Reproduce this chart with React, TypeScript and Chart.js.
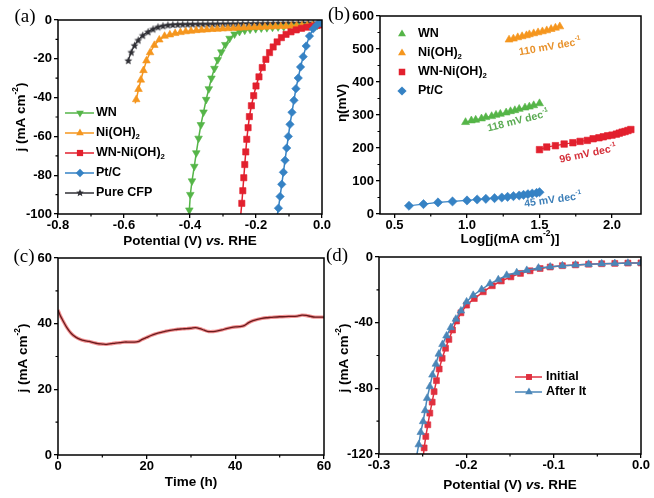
import React, { useEffect, useRef } from 'react';
import { Chart, registerables } from 'chart.js';

Chart.register(...registerables);

const W = 654;
const H = 498;
const SANS = '"Liberation Sans", Arial, Helvetica, sans-serif';
const SERIF = '"Liberation Serif", "Times New Roman", serif';

const GREEN = '#55b548';
const ORANGE = '#f5961e';
const RED = '#e2202e';
const BLUE = '#3582c4';
const DARK = '#303036';

// ---------------- (a) polarization curves ----------------
const aXTicks = [-0.8, -0.6, -0.4, -0.2, 0.0];
const aXLabels = ['-0.8', '-0.6', '-0.4', '-0.2', '0.0'];
const aXMinor = [-0.7, -0.5, -0.3, -0.1];
const aYTicks = [-100, -80, -60, -40, -20, 0];
const aYLabels = ['-100', '-80', '-60', '-40', '-20', '0'];
const aYMinor = [-90, -70, -50, -30, -10];

const aWN_V = [-0.404, -0.402, -0.399, -0.394, -0.387, -0.381, -0.374, -0.367, -0.359, -0.351, -0.343, -0.335, -0.326, -0.316, -0.305, -0.293, -0.280, -0.265, -0.250, -0.234, -0.218, -0.201, -0.184, -0.167, -0.150, -0.133, -0.116, -0.099, -0.082, -0.065, -0.048, -0.031, -0.014];
const aWN_J = [-100, -98, -90, -83, -75.5, -68.5, -61, -54, -47.5, -41, -35.5, -30, -25, -20.5, -16.5, -12.7, -9.5, -7.3, -6.0, -5.3, -4.8, -4.5, -4.2, -4.0, -3.8, -3.6, -3.5, -3.3, -3.2, -3.0, -2.9, -2.8, -2.7];

const aNi_V = [-0.566, -0.563, -0.556, -0.549, -0.541, -0.532, -0.521, -0.508, -0.493, -0.477, -0.461, -0.445, -0.429, -0.413, -0.397, -0.381, -0.365, -0.349, -0.333, -0.317, -0.301, -0.285, -0.269, -0.253, -0.237, -0.221, -0.205, -0.189, -0.173, -0.157, -0.141, -0.125, -0.109, -0.093, -0.077, -0.061, -0.045, -0.029, -0.013];
const aNi_J = [-43, -41, -35.7, -30.9, -26, -21, -16.8, -13, -10.2, -8.3, -7.6, -6.9, -6.4, -6.0, -5.7, -5.4, -5.2, -5.0, -4.8, -4.7, -4.5, -4.4, -4.3, -4.1, -4.0, -3.9, -3.8, -3.7, -3.6, -3.5, -3.4, -3.3, -3.2, -3.1, -3.0, -2.95, -2.9, -2.85, -2.8];

const aWNNi_V = [-0.246, -0.243, -0.240, -0.237, -0.234, -0.231, -0.228, -0.224, -0.220, -0.214, -0.207, -0.200, -0.191, -0.181, -0.170, -0.159, -0.148, -0.136, -0.123, -0.109, -0.094, -0.078, -0.062, -0.046, -0.030, -0.015, 0.0];
const aWNNi_J = [-100, -94.5, -88, -81.3, -74.5, -68, -61.5, -55.5, -49.8, -44.2, -39, -34, -29.3, -24.5, -20.3, -16.8, -13.9, -11.3, -9.1, -7.4, -6.1, -5.1, -4.3, -3.7, -3.2, -2.8, -2.5];

const aPt_V = [-0.135, -0.132, -0.127, -0.122, -0.117, -0.112, -0.107, -0.102, -0.097, -0.091, -0.085, -0.079, -0.072, -0.065, -0.057, -0.048, -0.038, -0.027, -0.015, -0.003];
const aPt_J = [-100, -97, -91, -84.7, -78.5, -72.3, -66, -60, -53.8, -47.6, -41.4, -35.4, -29.9, -24.2, -18.9, -13.4, -8.3, -4.6, -2.4, -1.5];

const aCFP_V = [-0.587, -0.578, -0.568, -0.557, -0.543, -0.527, -0.512, -0.497, -0.482, -0.467, -0.452, -0.437, -0.422, -0.407, -0.392, -0.376, -0.361, -0.346, -0.331, -0.316, -0.300, -0.285, -0.270, -0.255, -0.240, -0.224, -0.209, -0.194, -0.179, -0.164, -0.148, -0.133, -0.118, -0.103, -0.088, -0.072, -0.057, -0.042, -0.027, -0.012];
const aCFP_J = [-20.8, -16.5, -13, -10.3, -7.8, -6, -4.6, -3.5, -2.9, -2.5, -2.3, -2.2, -2.1, -2.08, -2.05, -2.02, -2.0, -1.97, -1.95, -1.92, -1.9, -1.88, -1.85, -1.83, -1.8, -1.78, -1.75, -1.72, -1.7, -1.68, -1.65, -1.62, -1.6, -1.57, -1.55, -1.52, -1.5, -1.47, -1.45, -1.42];

// ---------------- (b) Tafel plots ----------------
const bXTicks = [0.5, 1.0, 1.5, 2.0];
const bXLabels = ['0.5', '1.0', '1.5', '2.0'];
const bXMinor = [0.75, 1.25, 1.75];
const bYTicks = [0, 100, 200, 300, 400, 500, 600];
const bYLabels = ['0', '100', '200', '300', '400', '500', '600'];
const bYMinor = [50, 150, 250, 350, 450, 550];

const bWN_x = [0.99, 1.03, 1.06, 1.10, 1.13, 1.17, 1.20, 1.23, 1.27, 1.30, 1.33, 1.36, 1.40, 1.43, 1.46, 1.50];
const bWN_y = [278, 283, 285, 289, 293, 296, 300, 303, 307, 311, 314, 318, 322, 325, 329, 335];
const bNi_x = [1.29, 1.32, 1.35, 1.38, 1.41, 1.43, 1.46, 1.49, 1.52, 1.55, 1.58, 1.61, 1.64];
const bNi_y = [528, 531, 535, 538, 541, 544, 547, 550, 553, 556, 560, 564, 568];
const bWNNi_x = [1.50, 1.55, 1.61, 1.67, 1.73, 1.78, 1.83, 1.87, 1.91, 1.94, 1.97, 2.00, 2.03, 2.05, 2.07, 2.09, 2.11, 2.13];
const bWNNi_y = [195, 203, 207, 212, 216, 220, 223, 228, 231, 234, 237, 239, 242, 245, 248, 250, 253, 256];
const bPt_x = [0.60, 0.70, 0.80, 0.90, 1.00, 1.07, 1.13, 1.19, 1.24, 1.28, 1.32, 1.36, 1.39, 1.42, 1.45, 1.48, 1.50];
const bPt_y = [25, 30, 35, 38, 41, 44, 46, 48, 50, 52, 54, 56, 58, 60, 62, 64, 66];
const bSlopes = ['110', '118', '96', '45'];

// ---------------- (c) stability ----------------
const cXTicks = [0, 20, 40, 60];
const cXLabels = ['0', '20', '40', '60'];
const cXMinor = [10, 30, 50];
const cYTicks = [0, 20, 40, 60];
const cYLabels = ['0', '20', '40', '60'];
const cYMinor = [10, 30, 50];

const cTime = [0, 0.5, 1, 2, 3, 4, 5, 6, 7, 8, 9, 10, 11, 12, 13, 14, 15, 16, 17, 18, 19, 20, 21, 22, 23, 24, 25, 26, 27, 28, 29, 30, 31, 32, 33, 34, 35, 36, 37, 38, 39, 40, 41, 42, 43, 44, 45, 46, 47, 48, 50, 52, 54, 55, 56, 57, 58, 60];
const cJ = [44.2, 42.5, 41.2, 38.8, 37.0, 35.9, 35.2, 34.8, 34.6, 34.2, 33.9, 33.8, 33.7, 33.9, 34.1, 34.2, 34.4, 34.4, 34.4, 34.5, 35.2, 35.8, 36.4, 36.9, 37.3, 37.6, 37.9, 38.1, 38.3, 38.4, 38.5, 38.6, 38.8, 38.5, 38.0, 37.6, 37.6, 37.8, 38.1, 38.5, 38.8, 39.0, 39.1, 39.4, 40.3, 40.9, 41.3, 41.6, 41.8, 41.9, 42.1, 42.2, 42.3, 42.6, 42.5, 42.2, 42.0, 42.0];

// ---------------- (d) before / after ----------------
const dXTicks = [-0.3, -0.2, -0.1, 0.0];
const dXLabels = ['-0.3', '-0.2', '-0.1', '0.0'];
const dXMinor = [-0.25, -0.15, -0.05];
const dYTicks = [-120, -80, -40, 0];
const dYLabels = ['-120', '-80', '-40', '0'];
const dYMinor = [-100, -60, -20];

const dInit_V = [-0.2490, -0.2483, -0.2464, -0.2441, -0.2418, -0.2391, -0.2369, -0.2342, -0.2311, -0.2277, -0.2238, -0.2200, -0.2158, -0.2112, -0.2062, -0.1997, -0.1909, -0.1806, -0.1703, -0.1600, -0.1490, -0.1380, -0.1270, -0.1155, -0.1040, -0.0900, -0.0750, -0.0600, -0.0450, -0.0300, -0.0150, 0.0];
const dInit_J = [-120, -116.3, -109.3, -102.2, -95.1, -88.4, -82.0, -75.3, -68.2, -61.7, -55.6, -50.2, -44.5, -39.0, -34.0, -29.3, -25.3, -21.2, -17.5, -14.6, -12.1, -10.0, -8.4, -7.0, -6.1, -5.3, -4.8, -4.4, -4.1, -3.9, -3.7, -3.6];
const dAfter_V = [-0.2565, -0.2545, -0.2522, -0.2495, -0.2472, -0.2449, -0.2418, -0.2388, -0.2349, -0.2315, -0.2273, -0.2227, -0.2177, -0.2120, -0.2062, -0.1997, -0.1921, -0.1825, -0.1729, -0.1634, -0.1538, -0.1423, -0.1308, -0.1174, -0.1040, -0.0900, -0.0750, -0.0600, -0.0450, -0.0300, -0.0150, 0.0];
const dAfter_J = [-120, -114.3, -106.8, -100.2, -93.5, -86.0, -78.9, -71.8, -65.2, -59.1, -53.2, -48.0, -42.9, -37.8, -32.8, -27.3, -23.3, -19.8, -16.2, -13.8, -11.1, -9.5, -8.1, -6.7, -6.0, -5.3, -4.8, -4.4, -4.1, -3.9, -3.7, -3.6];

// ---------------- helpers ----------------
type Part = [string, string?];
type Area = { left: number; top: number; right: number; bottom: number };

const YW = 40;
const XH = 24;

const zip = (xs: number[], ys: number[]) => xs.map((x, i) => ({ x, y: ys[i] }));

function markerPath(ctx: CanvasRenderingContext2D, kind: string, x: number, y: number, r: number) {
  ctx.beginPath();
  if (kind === 'triangle' || kind === 'triangleDown') {
    const s = kind === 'triangle' ? 1 : -1;
    ctx.moveTo(x, y - s * r);
    ctx.lineTo(x + r * 0.866, y + s * r * 0.5);
    ctx.lineTo(x - r * 0.866, y + s * r * 0.5);
  } else if (kind === 'rect') {
    const h = r * 0.7071;
    ctx.rect(x - h, y - h, 2 * h, 2 * h);
  } else if (kind === 'rectRot') {
    ctx.moveTo(x, y - r);
    ctx.lineTo(x + r, y);
    ctx.lineTo(x, y + r);
    ctx.lineTo(x - r, y);
  } else if (kind === 'star') {
    for (let i = 0; i < 10; i++) {
      const rr = i % 2 ? r * 0.45 : r;
      const a = -Math.PI / 2 + (i * Math.PI) / 5;
      const px = x + Math.cos(a) * rr;
      const py = y + Math.sin(a) * rr;
      if (i === 0) ctx.moveTo(px, py);
      else ctx.lineTo(px, py);
    }
  }
  ctx.closePath();
}

function starImage(r: number, color: string) {
  const c = document.createElement('canvas');
  const s = Math.ceil(r * 2 + 2);
  c.width = s;
  c.height = s;
  const g = c.getContext('2d')!;
  markerPath(g, 'star', s / 2, s / 2 + 0.5, r);
  g.fillStyle = color;
  g.fill();
  return c;
}

function drawRich(ctx: CanvasRenderingContext2D, parts: Part[], x: number, y: number, size: number, align: 'left' | 'center', color: string) {
  const fontOf = (st?: string) => {
    const small = st === 'sup' || st === 'sub';
    return `${st === 'i' ? 'italic ' : ''}bold ${small ? size * 0.62 : size}px ${SANS}`;
  };
  const widths = parts.map(([t, st]) => {
    ctx.font = fontOf(st);
    return ctx.measureText(t).width;
  });
  const total = widths.reduce((a, b) => a + b, 0);
  let cx = align === 'center' ? x - total / 2 : x;
  ctx.fillStyle = color;
  ctx.textAlign = 'left';
  ctx.textBaseline = 'middle';
  parts.forEach(([t, st], i) => {
    ctx.font = fontOf(st);
    const dy = st === 'sup' ? -size * 0.38 : st === 'sub' ? size * 0.32 : 0;
    ctx.fillText(t, cx, y + dy);
    cx += widths[i];
  });
}

function linScale(min: number, max: number, ticks: number[], labels: string[], side: 'x' | 'y') {
  return {
    type: 'linear',
    min,
    max,
    afterBuildTicks: (s: any) => {
      s.ticks = ticks.map((v) => ({ value: v }));
    },
    afterFit: (s: any) => {
      if (side === 'y') s.width = YW;
      else s.height = XH;
    },
    ticks: {
      autoSkip: false,
      maxRotation: 0,
      minRotation: 0,
      padding: side === 'y' ? 2 : 0,
      color: '#000',
      font: { family: SANS, size: 13, weight: 'bold', lineHeight: 1.1 },
      callback: (_v: any, i: number) => labels[i],
    },
    grid: { display: true, drawOnChartArea: false, drawTicks: true, tickLength: 4, color: '#000', lineWidth: 1.3 },
    border: { display: false },
  };
}

type LegendItem = { kind: string; color: string; text: Part[]; y: number; line: boolean; r: number };
type Note = { text: Part[]; x: number; y: number; angle: number; color: string };

type Decor = {
  label: string;
  labelPos: [number, number];
  xTitle: Part[];
  xTitlePos: [number, number];
  yTitle: Part[];
  yTitlePos: [number, number];
  minorX: number[];
  minorY: number[];
  legend?: { items: LegendItem[]; x0: number; x1: number; mx: number; tx: number };
  notes?: Note[];
};

function decorPlugin(cfg: Decor) {
  return {
    id: 'decor',
    afterDraw(chart: any) {
      const ctx: CanvasRenderingContext2D = chart.ctx;
      const a = chart.chartArea;
      const xs = chart.scales.x;
      const ys = chart.scales.y;
      ctx.save();
      // frame
      ctx.strokeStyle = '#000';
      ctx.lineWidth = 1.5;
      ctx.strokeRect(a.left, a.top, a.right - a.left, a.bottom - a.top);
      // minor ticks
      ctx.lineWidth = 1.2;
      ctx.beginPath();
      cfg.minorX.forEach((v) => {
        const px = xs.getPixelForValue(v);
        ctx.moveTo(px, a.bottom);
        ctx.lineTo(px, a.bottom + 2.5);
      });
      cfg.minorY.forEach((v) => {
        const py = ys.getPixelForValue(v);
        ctx.moveTo(a.left - 2.5, py);
        ctx.lineTo(a.left, py);
      });
      ctx.stroke();
      // titles
      drawRich(ctx, cfg.xTitle, cfg.xTitlePos[0], cfg.xTitlePos[1], 13.5, 'center', '#000');
      ctx.save();
      ctx.translate(cfg.yTitlePos[0], cfg.yTitlePos[1]);
      ctx.rotate(-Math.PI / 2);
      drawRich(ctx, cfg.yTitle, 0, 0, 13.5, 'center', '#000');
      ctx.restore();
      // panel label
      ctx.font = `19px ${SERIF}`;
      ctx.fillStyle = '#000';
      ctx.textAlign = 'center';
      ctx.textBaseline = 'middle';
      ctx.fillText(cfg.label, cfg.labelPos[0], cfg.labelPos[1]);
      // legend
      if (cfg.legend) {
        const L = cfg.legend;
        L.items.forEach((it) => {
          if (it.line) {
            ctx.strokeStyle = it.color;
            ctx.lineWidth = 1.5;
            ctx.beginPath();
            ctx.moveTo(L.x0, it.y);
            ctx.lineTo(L.x1, it.y);
            ctx.stroke();
          }
          markerPath(ctx, it.kind, L.mx, it.y, it.r);
          ctx.fillStyle = it.color;
          ctx.fill();
          drawRich(ctx, it.text, L.tx, it.y, 12.5, 'left', '#000');
        });
      }
      // notes
      (cfg.notes || []).forEach((n) => {
        ctx.save();
        ctx.translate(n.x, n.y);
        ctx.rotate((n.angle * Math.PI) / 180);
        drawRich(ctx, n.text, 0, 0, 10.5, 'center', n.color);
        ctx.restore();
      });
      ctx.restore();
    },
  };
}

function lineSet(label: string, xs: number[], ys: number[], color: string, style: any, r: number, order: number, tip: boolean, rotation = 0, bw = 1.5) {
  return {
    label,
    data: zip(xs, ys),
    borderColor: color,
    backgroundColor: color,
    borderWidth: bw,
    pointStyle: style,
    pointRotation: rotation,
    pointRadius: (c: any) => (tip && c.dataIndex === 0 ? 0 : r),
    pointBorderWidth: 0.6,
    pointBorderColor: color,
    pointBackgroundColor: color,
    showLine: true,
    tension: 0,
    order,
  };
}

function makeChart(canvas: HTMLCanvasElement, area: Area, xScale: any, yScale: any, datasets: any[], decor: Decor) {
  return new Chart(canvas, {
    type: 'line',
    data: { datasets },
    options: {
      responsive: false,
      maintainAspectRatio: false,
      devicePixelRatio: 1,
      animation: false,
      events: [],
      parsing: true,
      layout: {
        padding: {
          left: area.left - YW,
          top: area.top,
          right: W - area.right,
          bottom: H - area.bottom - XH,
        },
      },
      scales: { x: xScale, y: yScale },
      plugins: { legend: { display: false }, tooltip: { enabled: false }, title: { display: false } },
    } as any,
    plugins: [decorPlugin(decor)],
  });
}

const jTitle: Part[] = [['j (mA cm'], ['-2', 'sup'], [')']];
const potTitle: Part[] = [['Potential (V) '], ['vs.', 'i'], [' RHE']];

export default function App() {
  const ra = useRef<HTMLCanvasElement>(null);
  const rb = useRef<HTMLCanvasElement>(null);
  const rc = useRef<HTMLCanvasElement>(null);
  const rd = useRef<HTMLCanvasElement>(null);

  useEffect(() => {
    const charts: Chart[] = [];
    const star = starImage(4.2, DARK);

    // (a)
    charts.push(
      makeChart(
        ra.current!,
        { left: 58, top: 20, right: 322, bottom: 214 },
        linScale(-0.8, 0, aXTicks, aXLabels, 'x'),
        linScale(-100, 0, aYTicks, aYLabels, 'y'),
        [
          lineSet('Pt/C', aPt_V, aPt_J, BLUE, 'rectRot', 4.2, 0, true),
          lineSet('WN-Ni(OH)2', aWNNi_V, aWNNi_J, RED, 'rect', 4.4, 1, true),
          lineSet('Ni(OH)2', aNi_V, aNi_J, ORANGE, 'triangle', 4.4, 2, true),
          lineSet('WN', aWN_V, aWN_J, GREEN, 'triangle', 4.4, 3, true, 180),
          lineSet('Pure CFP', aCFP_V, aCFP_J, DARK, star, 4, 4, false, 0, 1.3),
        ],
        {
          label: '(a)',
          labelPos: [25, 17],
          xTitle: potTitle,
          xTitlePos: [190, 241],
          yTitle: jTitle,
          yTitlePos: [21, 117],
          minorX: aXMinor,
          minorY: aYMinor,
          legend: {
            x0: 65,
            x1: 94,
            mx: 80,
            tx: 96,
            items: [
              { kind: 'triangleDown', color: GREEN, text: [['WN']], y: 113, line: true, r: 4.4 },
              { kind: 'triangle', color: ORANGE, text: [['Ni(OH)'], ['2', 'sub']], y: 133, line: true, r: 4.4 },
              { kind: 'rect', color: RED, text: [['WN-Ni(OH)'], ['2', 'sub']], y: 153, line: true, r: 4.4 },
              { kind: 'rectRot', color: BLUE, text: [['Pt/C']], y: 173, line: true, r: 4.2 },
              { kind: 'star', color: DARK, text: [['Pure CFP']], y: 193, line: true, r: 4 },
            ],
          },
        }
      )
    );

    // (b)
    charts.push(
      makeChart(
        rb.current!,
        { left: 380, top: 16, right: 641, bottom: 214 },
        linScale(0.4, 2.2, bXTicks, bXLabels, 'x'),
        linScale(0, 600, bYTicks, bYLabels, 'y'),
        [
          lineSet('WN', bWN_x, bWN_y, GREEN, 'triangle', 4.6, 0, false, 0, 1.2),
          lineSet('Ni(OH)2', bNi_x, bNi_y, ORANGE, 'triangle', 4.6, 1, false, 0, 1.2),
          lineSet('WN-Ni(OH)2', bWNNi_x, bWNNi_y, RED, 'rect', 4.6, 2, false, 0, 1.2),
          lineSet('Pt/C', bPt_x, bPt_y, BLUE, 'rectRot', 4.6, 3, false, 0, 1.2),
        ],
        {
          label: '(b)',
          labelPos: [339, 15],
          xTitle: [['Log[j(mA cm'], ['-2', 'sup'], [')]']],
          xTitlePos: [510, 239],
          yTitle: [['η(mV)']],
          yTitlePos: [342, 103],
          minorX: bXMinor,
          minorY: bYMinor,
          legend: {
            x0: 0,
            x1: 0,
            mx: 402,
            tx: 418,
            items: [
              { kind: 'triangle', color: GREEN, text: [['WN']], y: 34, line: false, r: 4.6 },
              { kind: 'triangle', color: ORANGE, text: [['Ni(OH)'], ['2', 'sub']], y: 53, line: false, r: 4.6 },
              { kind: 'rect', color: RED, text: [['WN-Ni(OH)'], ['2', 'sub']], y: 72, line: false, r: 4.6 },
              { kind: 'rectRot', color: BLUE, text: [['Pt/C']], y: 91, line: false, r: 4.6 },
            ],
          },
          notes: [
            { text: [[bSlopes[0] + ' mV dec'], ['-1', 'sup']], x: 550, y: 47, angle: -10, color: '#e8922c' },
            { text: [[bSlopes[1] + ' mV dec'], ['-1', 'sup']], x: 518, y: 121, angle: -14, color: '#5aab52' },
            { text: [[bSlopes[2] + ' mV dec'], ['-1', 'sup']], x: 588, y: 154, angle: -12, color: '#d5303a' },
            { text: [[bSlopes[3] + ' mV dec'], ['-1', 'sup']], x: 553, y: 200, angle: -8, color: '#3d7fb8' },
          ],
        }
      )
    );

    // (c)
    charts.push(
      makeChart(
        rc.current!,
        { left: 58, top: 258, right: 324, bottom: 455 },
        linScale(0, 60, cXTicks, cXLabels, 'x'),
        linScale(0, 60, cYTicks, cYLabels, 'y'),
        [
          { label: 'core', data: zip(cTime, cJ), borderColor: '#6a1a1c', borderWidth: 1.3, pointRadius: 0, tension: 0.3, order: 0 },
          { label: 'halo', data: zip(cTime, cJ), borderColor: 'rgba(232,70,72,0.6)', borderWidth: 3.4, pointRadius: 0, tension: 0.3, order: 1 },
        ],
        {
          label: '(c)',
          labelPos: [24, 257],
          xTitle: [['Time (h)']],
          xTitlePos: [191, 482],
          yTitle: jTitle,
          yTitlePos: [23, 358],
          minorX: cXMinor,
          minorY: cYMinor,
        }
      )
    );

    // (d)
    charts.push(
      makeChart(
        rd.current!,
        { left: 379, top: 257, right: 641, bottom: 454 },
        linScale(-0.3, 0, dXTicks, dXLabels, 'x'),
        linScale(-120, 0, dYTicks, dYLabels, 'y'),
        [
          lineSet('After It', dAfter_V, dAfter_J, '#4a86b8', 'triangle', 4.4, 0, true),
          lineSet('Initial', dInit_V, dInit_J, '#e0303f', 'rect', 4.2, 1, true),
        ],
        {
          label: '(d)',
          labelPos: [337, 256],
          xTitle: potTitle,
          xTitlePos: [510, 485],
          yTitle: jTitle,
          yTitlePos: [344, 358],
          minorX: dXMinor,
          minorY: dYMinor,
          legend: {
            x0: 515,
            x1: 542,
            mx: 529,
            tx: 546,
            items: [
              { kind: 'rect', color: '#e0303f', text: [['Initial']], y: 377, line: true, r: 4.2 },
              { kind: 'triangle', color: '#4a86b8', text: [['After It']], y: 392, line: true, r: 4.4 },
            ],
          },
        }
      )
    );

    return () => charts.forEach((c) => c.destroy());
  }, []);

  const cs: React.CSSProperties = { position: 'absolute', left: 0, top: 0 };
  return (
    <div style={{ position: 'absolute', left: 0, top: 0, width: W, height: H, background: '#fff', overflow: 'hidden' }}>
      <canvas ref={ra} width={W} height={H} style={cs} />
      <canvas ref={rb} width={W} height={H} style={cs} />
      <canvas ref={rc} width={W} height={H} style={cs} />
      <canvas ref={rd} width={W} height={H} style={cs} />
    </div>
  );
}
